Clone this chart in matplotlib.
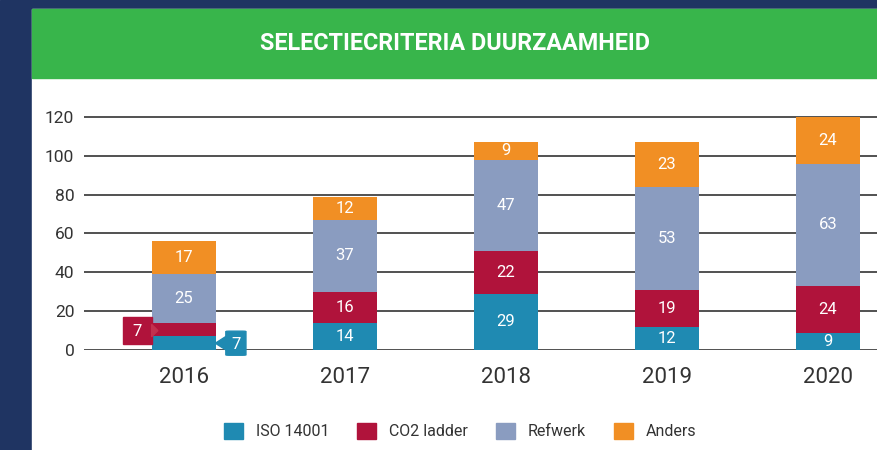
import matplotlib
matplotlib.use('Agg')
import matplotlib.pyplot as plt
from matplotlib.patches import Rectangle, Patch, FancyBboxPatch, Polygon
import numpy as np

plt.rcParams['font.family'] = ['Roboto', 'DejaVu Sans']

years = ['2016', '2017', '2018', '2019', '2020']
series = ['ISO 14001', 'CO2 ladder', 'Refwerk', 'Anders']
iso = [7, 14, 29, 12, 9]
co2 = [7, 16, 22, 19, 24]
refwerk = [25, 37, 47, 53, 63]
anders = [17, 12, 9, 23, 24]
colors = ['#1f8ab2', '#b0133b', '#8a9cc0', '#f18f24']
yticks = [0, 20, 40, 60, 80, 100, 120]

navy = '#1f3462'
green = '#38b54b'

fig = plt.figure(figsize=(8.78, 4.5), dpi=100)
W, H = 878, 450

# frame: navy border, green title band
fig.patches.append(Rectangle((0, 0), 1, 1, transform=fig.transFigure,
                             color=navy, zorder=-3))
fig.patches.append(Rectangle((32 / W, 0), 1, 1 - 9 / H, transform=fig.transFigure,
                             color='white', zorder=-2))
fig.patches.append(Rectangle((32 / W, 1 - 78 / H), 1, 69 / H, transform=fig.transFigure,
                             color=green, zorder=-1))
fig.text(455 / W, 1 - 44 / H, 'SELECTIECRITERIA DUURZAAMHEID', color='white',
         fontsize=16.8, fontweight='bold', ha='center', va='center')

ax = fig.add_axes([84 / W, 1 - 350 / H, 1 - 84 / W, (350 - 113.1) / H])
ax.set_facecolor('none')

x = np.arange(len(years))
w = 0.40
data = [iso, co2, refwerk, anders]
bottom = np.zeros(len(years))
for vals, c, name in zip(data, colors, series):
    ax.bar(x, vals, w, bottom=bottom, color=c, label=name, zorder=2)
    for i, v in enumerate(vals):
        if i == 0 and name in ('ISO 14001', 'CO2 ladder'):
            continue
        ax.text(x[i], bottom[i] + v / 2, str(v), color='white', fontsize=12,
                ha='center', va='center', zorder=3)
    bottom += np.array(vals)

# callouts for the small 2016 segments (tag + pointer)
left = x[0] - w / 2
right = x[0] + w / 2
yr = iso[0] + co2[0] / 2 - 0.5
ax.add_patch(Rectangle((left - 0.18, yr - 7), 0.18, 14, color=colors[1],
                       zorder=4, clip_on=False))
ax.add_patch(Polygon([(left - 0.001, yr - 3.2), (left + 0.038, yr), (left - 0.001, yr + 3.2)],
                     color='#c2314f', zorder=4, clip_on=False))
ax.text(left - 0.09, yr - 0.3, str(co2[0]), color='white', fontsize=12,
        ha='center', va='center', zorder=5)

yb = iso[0] / 2
ax.add_patch(FancyBboxPatch((right + 0.06, yb - 6.2), 0.125, 12.4,
                            boxstyle='round,pad=0,rounding_size=0.02',
                            mutation_aspect=1 / 0.09, color=colors[0],
                            zorder=4, clip_on=False))
ax.add_patch(Polygon([(right + 0.061, yb - 3.5), (right - 0.005, yb), (right + 0.061, yb + 3.5)],
                     color=colors[0], zorder=4, clip_on=False))
ax.text(right + 0.122, yb - 0.5, str(iso[0]), color='white', fontsize=12,
        ha='center', va='center', zorder=5)

ax.set_xlim(-0.621, 4.311)
ax.set_ylim(0, 122)
ax.set_yticks(yticks)
ax.set_xticks(x)
ax.set_xticklabels(years)
for yv in yticks:
    ax.axhline(yv, color='#222222', lw=1.1, zorder=1)
for s in ax.spines.values():
    s.set_visible(False)
ax.tick_params(axis='y', length=0, pad=7, labelsize=12.5, labelcolor='#333333')
ax.tick_params(axis='x', length=0, pad=12, labelsize=16, labelcolor='#333333')

handles = [Patch(color=c) for c in colors]
fig.legend(handles, series, loc='center', bbox_to_anchor=(460 / W, 1 - 431 / H),
           ncol=4, frameon=False, fontsize=11.5, handlelength=1.2, handleheight=1.15,
           handletextpad=0.8, columnspacing=1.75, labelcolor='#333333')

fig.savefig('out.png', dpi=100)
